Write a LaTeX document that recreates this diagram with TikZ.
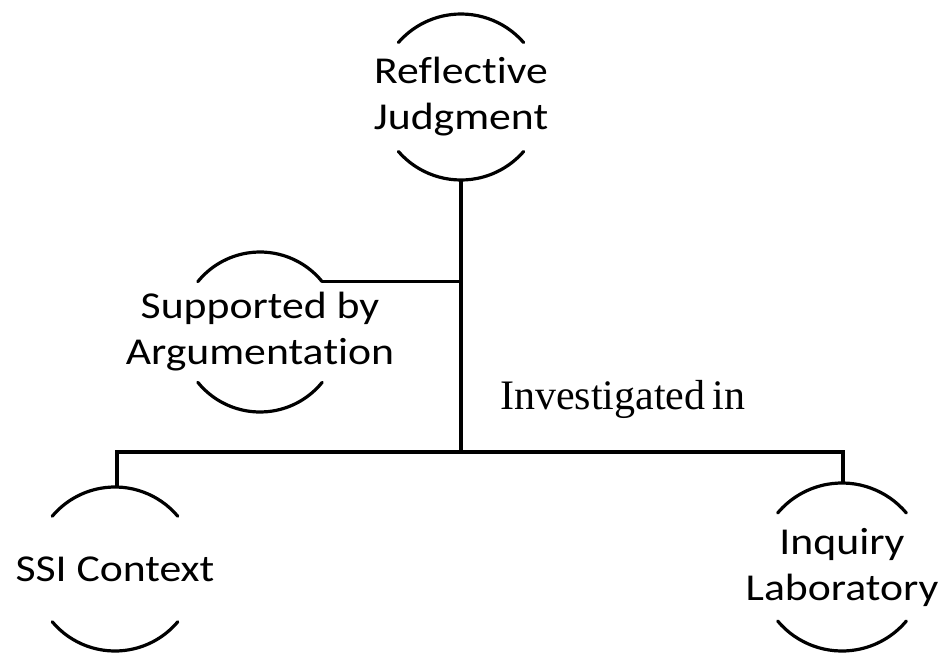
\documentclass[tikz,border=0pt]{standalone}
\usepackage{fontspec}
\setmainfont{Liberation Serif}
\newfontfamily\conceptfont{Carlito}[FakeStretch=1.15, RawFeature={-liga;-clig;-calt;-dlig}]
\begin{document}
\begin{tikzpicture}[x=1pt,y=-1pt,
  concept/.style={inner sep=0pt, align=center, font=\conceptfont\fontsize{38}{46}\selectfont},
  link/.style={line width=3.2pt},
  rim/.style={line width=3.2pt, line cap=round}]
\useasboundingbox (0,0) rectangle (941,653);

% concept labels
\node[concept] (rj) at (461,97) {Reflective\\Judgment};
\node[concept] (sa) at (260,332) {Supported by\\Argumenta\kern0pt tion};
\node[concept] (ssi) at (115,569) {SSI Context};
\node[concept] (il) at (842,567) {Inquiry\\Laboratory};

% open circles: an arc above and an arc below each label
\foreach \n/\r/\a in {rj/83/41, sa/80/39, ssi/82/40, il/84/40}{
  \draw[rim] ([shift={(\a:\r pt)}]\n.center) arc[start angle=\a, end angle=180-\a, radius=\r pt];
  \draw[rim] ([shift={(180+\a:\r pt)}]\n.center) arc[start angle=180+\a, end angle=360-\a, radius=\r pt];
}

% points on the circles where the connectors meet them
\coordinate (rj-bot) at ([yshift=-83pt]rj.center);
\coordinate (sa-tr) at ([shift={(39:80pt)}]sa.center);
\coordinate (ssi-top) at ([shift={(2pt,82pt)}]ssi.center);
\coordinate (il-top) at ([shift={(1pt,84pt)}]il.center);
\coordinate (hub) at (rj-bot |- 0,452);
\coordinate (sa-join) at (rj-bot |- sa-tr);

% connectors
\draw[link] (rj-bot) -- (hub);
\draw[link] (sa-tr) -- (sa-join);
\draw[link] (ssi-top) |- (hub) -| (il-top);

% connector label
\node[font=\fontsize{42}{50}\selectfont, anchor=base west, inner sep=0pt] (inv) at (500,409) {Investigated\,in};
\end{tikzpicture}
\end{document}
